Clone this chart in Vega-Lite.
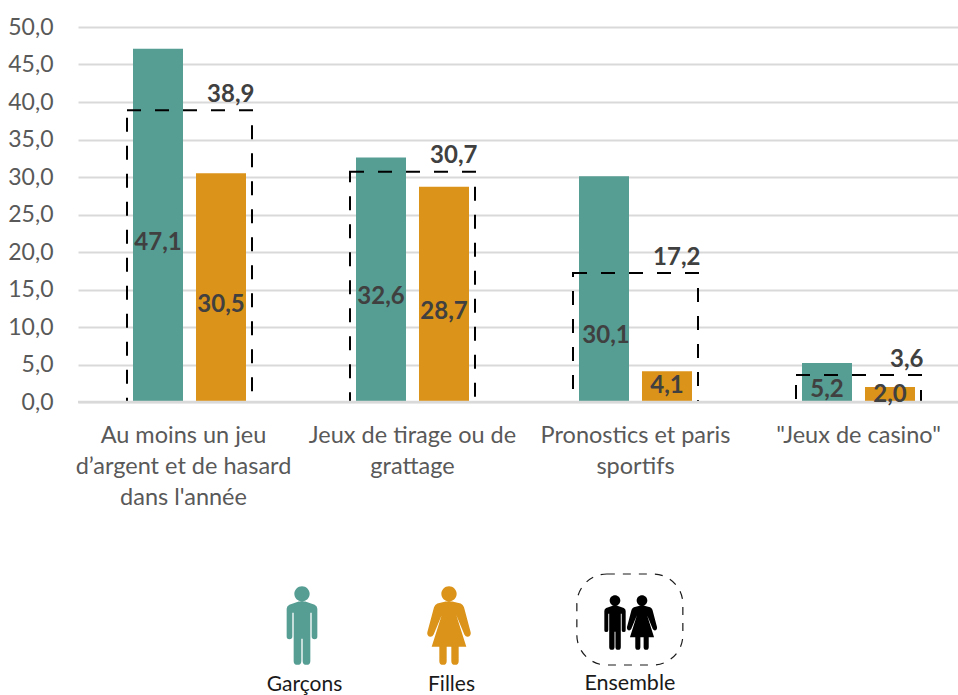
{
"$schema":"https://vega.github.io/schema/vega-lite/v6.json",
"width":880,"height":375,
"autosize":{"type":"none"},
"padding":{"left":78,"top":27,"right":0,"bottom":293},
"background":"white",
"config":{"view":{"stroke":null},"font":"Lato","locale":{"number":{"decimal":",","thousands":" ","grouping":[3],"currency":["","€"]}}},
"datasets":{
"sexe":[
{"cat":"Au moins un jeu|d’argent et de hasard|dans l'année","groupe":"Garçons","value":47.1},
{"cat":"Au moins un jeu|d’argent et de hasard|dans l'année","groupe":"Filles","value":30.5},
{"cat":"Jeux de tirage ou de|grattage","groupe":"Garçons","value":32.6},
{"cat":"Jeux de tirage ou de|grattage","groupe":"Filles","value":28.7},
{"cat":"Pronostics et paris|sportifs","groupe":"Garçons","value":30.1},
{"cat":"Pronostics et paris|sportifs","groupe":"Filles","value":4.1},
{"cat":"\"Jeux de casino\"","groupe":"Garçons","value":5.2},
{"cat":"\"Jeux de casino\"","groupe":"Filles","value":2.0}
],
"ensemble":[
{"cat":"Au moins un jeu|d’argent et de hasard|dans l'année","value":38.9},
{"cat":"Jeux de tirage ou de|grattage","value":30.7},
{"cat":"Pronostics et paris|sportifs","value":17.2},
{"cat":"\"Jeux de casino\"","value":3.6}
],
"legende":[
{"item":"Garçons","rang":1},
{"item":"Filles","rang":2},
{"item":"Ensemble","rang":3.55}
]
},
"resolve":{"scale":{"x":"independent","y":"independent"}},
"layer":[
{
"resolve":{"scale":{"y":"independent"}},
"layer":[
{
"layer":[
{"data":{"name":"sexe"},
"mark":{"type":"bar","width":50},
"encoding":{
"x":{"field":"cat","type":"nominal","sort":null,"title":null,
"scale":{"range":[0,892],"paddingInner":0,"paddingOuter":0},
"axis":{"labelAngle":0,"domain":false,"ticks":false,"labelFontSize":23.5,"labelColor":"#595959","labelPadding":21,"labelLineHeight":31,"labelLimit":0,"labelExpr":"split(datum.label,'|')","labelOffset":{"condition":{"test":"indexof(datum.value,'Au moins')==0","value":-6},"value":0}}},
"xOffset":{"field":"groupe","type":"nominal","sort":["Garçons","Filles"],"scale":{"domain":["Garçons","Filles"],"paddingInner":0.206,"paddingOuter":0.873}},
"y":{"field":"value","type":"quantitative","title":null,
"scale":{"domain":[0,50],"nice":false},
"axis":{"values":[0,5,10,15,20,25,30,35,40,45,50],"tickCount":11,"labelOverlap":false,"format":".1f","domain":false,"ticks":false,"labelFontSize":23,"labelColor":"#595959","labelPadding":25,"gridColor":"#D9D9D9","gridWidth":2,"grid":true}},
"color":{"field":"groupe","type":"nominal","legend":null,"scale":{"domain":["Garçons","Filles"],"range":["#569D93","#DC9319"]}}
}},
{"data":{"name":"ensemble"},
"mark":{"type":"bar","width":125,"fill":null,"fillOpacity":0,"stroke":"#000000","strokeWidth":2,"strokeDash":[14,14]},
"encoding":{
"x":{"field":"cat","type":"nominal","sort":null},
"y":{"field":"value","type":"quantitative"}
}},
{"data":{"values":[{"v":0}]},
"mark":{"type":"rule","stroke":"#D9D9D9","strokeWidth":2.5},
"encoding":{"y":{"field":"v","type":"quantitative"}}},
{"data":{"name":"ensemble"},
"mark":{"type":"text","font":"Lato","fontWeight":"bold","fontSize":24,"color":"#404040","align":"right","dx":65,"dy":-15.5},
"encoding":{
"x":{"field":"cat","type":"nominal","sort":null},
"y":{"field":"value","type":"quantitative"},
"text":{"field":"value","type":"quantitative","format":".1f"}
}}
]},
{
"layer":[
{"data":{"name":"sexe"},"transform":[{"filter":{"field":"value","oneOf":[47.1,30.5,32.6,28.7]}}],
"mark":{"type":"text","fontWeight":"bold","fontSize":24,"color":"#404040","dy":17.5},
"encoding":{
"x":{"field":"cat","type":"nominal","sort":null},
"xOffset":{"field":"groupe","type":"nominal"},
"y":{"field":"value","type":"quantitative","scale":{"domain":[0,100],"nice":false},"axis":null},
"text":{"field":"value","type":"quantitative","format":".1f"}}},
{"data":{"name":"sexe"},"transform":[{"filter":{"field":"value","equal":30.1}}],
"mark":{"type":"text","fontWeight":"bold","fontSize":24,"color":"#404040","dy":47,"dx":2},
"encoding":{
"x":{"field":"cat","type":"nominal","sort":null},
"xOffset":{"field":"groupe","type":"nominal"},
"y":{"field":"value","type":"quantitative"},
"text":{"field":"value","type":"quantitative","format":".1f"}}},
{"data":{"name":"sexe"},"transform":[{"filter":{"field":"value","equal":4.1}}],
"mark":{"type":"text","fontWeight":"bold","fontSize":24,"color":"#404040","dy":-1},
"encoding":{
"x":{"field":"cat","type":"nominal","sort":null},
"xOffset":{"field":"groupe","type":"nominal"},
"y":{"field":"value","type":"quantitative"},
"text":{"field":"value","type":"quantitative","format":".1f"}}},
{"data":{"name":"sexe"},"transform":[{"filter":{"field":"value","equal":5.2}}],
"mark":{"type":"text","fontWeight":"bold","fontSize":24,"color":"#404040","dy":7.5},
"encoding":{
"x":{"field":"cat","type":"nominal","sort":null},
"xOffset":{"field":"groupe","type":"nominal"},
"y":{"field":"value","type":"quantitative"},
"text":{"field":"value","type":"quantitative","format":".1f"}}},
{"data":{"name":"sexe"},"transform":[{"filter":{"field":"value","equal":2.0}}],
"mark":{"type":"text","fontWeight":"bold","fontSize":24,"color":"#404040","dy":0.5},
"encoding":{
"x":{"field":"cat","type":"nominal","sort":null},
"xOffset":{"field":"groupe","type":"nominal"},
"y":{"field":"value","type":"quantitative"},
"text":{"field":"value","type":"quantitative","format":".1f"}}}
]}
]},
{
"layer":[
{"data":{"name":"legende"},"transform":[{"filter":{"field":"item","equal":"Ensemble"}}],
"mark":{"type":"rect","width":106,"height":91,"cornerRadius":30,"fill":null,"fillOpacity":0,"stroke":"#1a1a1a","strokeWidth":1.2,"strokeDash":[8,8]},
"encoding":{
"x":{"field":"rang","type":"quantitative","axis":null,"scale":{"domain":[1,2,3,4],"range":[224,371,537,564]}},
"y":{"datum":592.5,"type":"quantitative","axis":null,"scale":{"domain":[0,668],"range":[0,668],"nice":false}}
}},
{"data":{"name":"legende"},"transform":[{"filter":{"field":"item","equal":"Garçons"}}],
"mark":{"type":"point","filled":true,"opacity":1,"color":"#569D93","size":0.4444,"shape":"M -23 -95 A 23 23 0 1 1 23 -95 A 23 23 0 1 1 -23 -95 Z M -10 -72 L 10 -72 L 38 -62 Q 46 -58 46 -50 L 46 33 Q 46 41 38 41 Q 29 41 29 33 L 29 -38 L 25 -38 L 25 107 Q 25 118 13.5 118 Q 2 118 2 107 L 2 40 L -2 40 L -2 107 Q -2 118 -13.5 118 Q -25 118 -25 107 L -25 -38 L -29 -38 L -29 33 Q -29 41 -38 41 Q -46 41 -46 33 L -46 -50 Q -46 -58 -38 -62 Z"},
"encoding":{"x":{"field":"rang","type":"quantitative"},"y":{"datum":598.5,"type":"quantitative"}}},
{"data":{"name":"legende"},"transform":[{"filter":{"field":"item","equal":"Filles"}}],
"mark":{"type":"point","filled":true,"opacity":1,"color":"#DC9319","size":0.4444,"shape":"M -23 -95 A 23 23 0 1 1 23 -95 A 23 23 0 1 1 -23 -95 Z M -10 -72 L 10 -72 L 35 -66 Q 42 -63 45 -55 L 65 20 Q 67 30 57 34 Q 50 35 46 27 L 22 -31 L 52 64 L 29 64 L 29 107 Q 29 118 18 118 Q 7 118 7 107 L 7 64 L -7 64 L -7 107 Q -7 118 -18 118 Q -29 118 -29 107 L -29 64 L -52 64 L -22 -31 L -46 27 Q -50 35 -57 34 Q -67 30 -65 20 L -45 -55 Q -42 -63 -35 -66 Z"},
"encoding":{"x":{"field":"rang","type":"quantitative"},"y":{"datum":598.5,"type":"quantitative"}}},
{"data":{"values":[{"item":"Ensemble garçons","rang":3}]},
"mark":{"type":"point","filled":true,"opacity":1,"color":"#000000","size":0.2152,"shape":"M -23 -95 A 23 23 0 1 1 23 -95 A 23 23 0 1 1 -23 -95 Z M -10 -72 L 10 -72 L 38 -62 Q 46 -58 46 -50 L 46 33 Q 46 41 38 41 Q 29 41 29 33 L 29 -38 L 25 -38 L 25 107 Q 25 118 13.5 118 Q 2 118 2 107 L 2 40 L -2 40 L -2 107 Q -2 118 -13.5 118 Q -25 118 -25 107 L -25 -38 L -29 -38 L -29 33 Q -29 41 -38 41 Q -46 41 -46 33 L -46 -50 Q -46 -58 -38 -62 Z"},
"encoding":{"x":{"field":"rang","type":"quantitative"},"y":{"datum":595.5,"type":"quantitative"}}},
{"data":{"values":[{"item":"Ensemble filles","rang":4}]},
"mark":{"type":"point","filled":true,"opacity":1,"color":"#000000","size":0.2152,"shape":"M -23 -95 A 23 23 0 1 1 23 -95 A 23 23 0 1 1 -23 -95 Z M -10 -72 L 10 -72 L 35 -66 Q 42 -63 45 -55 L 65 20 Q 67 30 57 34 Q 50 35 46 27 L 22 -31 L 52 64 L 29 64 L 29 107 Q 29 118 18 118 Q 7 118 7 107 L 7 64 L -7 64 L -7 107 Q -7 118 -18 118 Q -29 118 -29 107 L -29 64 L -52 64 L -22 -31 L -46 27 Q -50 35 -57 34 Q -67 30 -65 20 L -45 -55 Q -42 -63 -35 -66 Z"},
"encoding":{"x":{"field":"rang","type":"quantitative"},"y":{"datum":595.5,"type":"quantitative"}}},
{"data":{"name":"legende"},"transform":[{"filter":{"field":"item","oneOf":["Garçons","Filles"]}}],
"mark":{"type":"text","fontSize":21,"color":"#1a1a1a","dx":2.5},
"encoding":{"x":{"field":"rang","type":"quantitative"},"y":{"datum":657.5,"type":"quantitative"},"text":{"field":"item"}}},
{"data":{"name":"legende"},"transform":[{"filter":{"field":"item","equal":"Ensemble"}}],
"mark":{"type":"text","fontSize":21.5,"color":"#1a1a1a"},
"encoding":{"x":{"field":"rang","type":"quantitative"},"y":{"datum":657,"type":"quantitative"},"text":{"field":"item"}}}
]}
]
}
